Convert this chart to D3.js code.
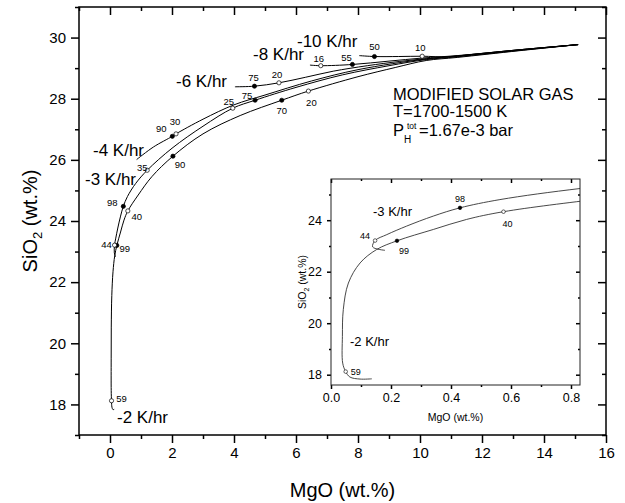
<!DOCTYPE html>
<html>
<head>
<meta charset="utf-8">
<script src="https://cdn.jsdelivr.net/npm/d3@7"></script>
<style>
  body { margin: 0; background: #fff; }
  svg { font-family: "Liberation Sans", Arial, sans-serif; }
  .ax path { display: none; }
  .ax line { stroke: #000; stroke-width: 1.5; }
  .ax text { fill: #000; }
</style>
</head>
<body>
<svg id="chart" width="625" height="503"></svg>
<script>
// cooling rate curves, [MgO, SiO2] in wt.%
const rates = ["-2", "-3", "-4", "-6", "-8", "-10"]

const curve2 = [[0.136,17.84],[0.097,17.83],[0.063,17.91],[0.049,18.12],[0.039,18.45],[0.038,19.49],[0.041,20.53],[0.058,21.56],[0.097,22.34],[0.152,22.86],[0.22,23.2],[0.341,23.64],[0.452,24.03],[0.575,24.33],[0.91,24.85],[1.35,25.45],[2.03,26.12],[3.0,26.85],[4.2,27.45],[5.54,27.95],[6.4,28.25],[8.0,28.72],[9.2,29.02],[10.2,29.25],[11.2,29.35],[13.2,29.57],[15.1,29.77]]
const curve3 = [[0.18,22.83],[0.139,22.96],[0.147,23.21],[0.186,23.44],[0.252,23.77],[0.341,24.16],[0.43,24.48],[0.563,24.8],[0.83,25.23],[1.2,25.66],[2.0,26.38],[3.0,27.1],[3.96,27.69],[4.68,27.95],[6.0,28.37],[7.5,28.78],[9.0,29.08],[10.2,29.28],[11.2,29.37],[13.2,29.58],[15.1,29.77]]
const curve4 = [[0.86,26.01],[1.4,26.42],[2.01,26.77],[2.13,26.85],[3.0,27.33],[4.0,27.8],[5.0,28.12],[6.5,28.58],[8.0,28.95],[10.2,29.3],[11.2,29.39],[13.2,29.59],[15.1,29.77]]
const curve6 = [[4.03,28.39],[4.66,28.41],[5.45,28.52],[6.3,28.7],[7.2,28.9],[8.3,29.08],[9.35,29.22],[10.2,29.31],[11.2,29.4],[13.2,29.6],[15.1,29.77]]
const curve8 = [[6.45,29.1],[6.8,29.08],[7.82,29.12],[9.0,29.23],[10.07,29.33],[11.2,29.41],[13.2,29.6],[15.1,29.77]]
const curve10 = [[8.04,29.41],[8.53,29.38],[9.3,29.38],[10.07,29.39],[10.9,29.37],[11.6,29.44],[13.2,29.6],[15.1,29.77]]

// marked points: [MgO, SiO2, label, filled]
const marks2 = [[0.049,18.12,"59",0],[0.22,23.2,"99",1],[0.575,24.33,"40",0],[2.03,26.12,"90",1],[5.54,27.95,"70",1],[6.4,28.25,"20",0]]
const marks3 = [[0.147,23.21,"44",0],[0.43,24.48,"98",1],[1.2,25.66,"35",0],[3.96,27.69,"25",0],[4.68,27.95,"75",1]]
const marks4 = [[2.01,26.77,"90",1],[2.13,26.85,"30",0]]
const marks6 = [[4.66,28.41,"75",1],[5.45,28.52,"20",0]]
const marks8 = [[6.8,29.08,"16",0],[7.82,29.12,"55",1]]
const marks10 = [[8.53,29.38,"50",1],[10.07,29.39,"10",0]]

const xMajor = [0, 2, 4, 6, 8, 10, 12, 14, 16]
const yMajor = [18, 20, 22, 24, 26, 28, 30]
const insetXTicks = [0.0, 0.2, 0.4, 0.6, 0.8]
const insetYTicks = [18, 20, 22, 24]

const curves = [curve2, curve3, curve4, curve6, curve8, curve10]
const marks = [marks2, marks3, marks4, marks6, marks8, marks10]

// layout (label offsets in px)
const mainLabelOff = [
    [[10,-2],[8,3],[9,6],[7,8],[0,10],[3,11]],
    [[-8,-1],[-11,-4],[-5,-3],[-4,-7],[-8,-5]],
    [[-11,-8],[-1,-12]],
    [[-1,-9],[-2,-8]],
    [[-2,-7.5],[-6,-7]],
    [[0,-10],[-2,-9]]
]
const insetLabelOff = { "59": [10, 0], "99": [7, 10], "40": [4, 12], "44": [-10, -4.5], "98": [0, -9] }
const ratePos = [[117, 423], [85, 185], [93, 156], [176, 87], [253, 60], [297, 47]]

const svg = d3.select("#chart")

const x = d3.scaleLinear().domain([-1, 16]).range([79, 606])
const y = d3.scaleLinear().domain([17, 31]).range([435, 7])

function drawAxes(g, xs, ys, xMaj, xMin, yMaj, yMin, big, small, fs, fmt) {
    const [x0, x1] = xs.range()
    const [y0, y1] = ys.range()
    // bottom
    g.append("g").attr("class", "ax").attr("transform", `translate(0,${y0})`)
        .call(d3.axisBottom(xs).tickValues(xMaj).tickSize(big).tickPadding(4).tickFormat(fmt))
        .selectAll("text").attr("font-size", fs)
    g.append("g").attr("class", "ax").attr("transform", `translate(0,${y0})`)
        .call(d3.axisBottom(xs).tickValues(xMin).tickSize(small).tickFormat(""))
    // top (inward)
    g.append("g").attr("class", "ax").attr("transform", `translate(0,${y1})`)
        .call(d3.axisTop(xs).tickValues(xMaj).tickSize(-big).tickFormat(""))
    g.append("g").attr("class", "ax").attr("transform", `translate(0,${y1})`)
        .call(d3.axisTop(xs).tickValues(xMin).tickSize(-small).tickFormat(""))
    // left
    g.append("g").attr("class", "ax").attr("transform", `translate(${x0},0)`)
        .call(d3.axisLeft(ys).tickValues(yMaj).tickSize(big).tickPadding(5))
        .selectAll("text").attr("font-size", fs)
    g.append("g").attr("class", "ax").attr("transform", `translate(${x0},0)`)
        .call(d3.axisLeft(ys).tickValues(yMin).tickSize(small).tickFormat(""))
    // right (inward)
    g.append("g").attr("class", "ax").attr("transform", `translate(${x1},0)`)
        .call(d3.axisRight(ys).tickValues(yMaj).tickSize(-big).tickFormat(""))
    g.append("g").attr("class", "ax").attr("transform", `translate(${x1},0)`)
        .call(d3.axisRight(ys).tickValues(yMin).tickSize(-small).tickFormat(""))
    return g.append("rect").attr("x", x0).attr("y", y1).attr("width", x1 - x0).attr("height", y0 - y1)
        .attr("fill", "none").attr("stroke", "#000").attr("stroke-width", 1.5)
}

drawAxes(svg, x, y, xMajor, d3.range(-1, 16, 2), yMajor, d3.range(17, 32, 2), 8, 4, 15, d3.format("d"))

svg.append("clipPath").attr("id", "mainclip").append("rect")
    .attr("x", 79).attr("y", 7).attr("width", 527).attr("height", 428)

const line = d3.line().x(d => x(d[0])).y(d => y(d[1])).curve(d3.curveCatmullRom.alpha(0.5))

svg.append("g").attr("clip-path", "url(#mainclip)")
    .selectAll("path").data(curves).enter().append("path")
    .attr("d", line).attr("fill", "none").attr("stroke", "#000").attr("stroke-width", 1)

marks.forEach((ms, si) => {
    ms.forEach((m, i) => {
        svg.append("circle").attr("cx", x(m[0])).attr("cy", y(m[1])).attr("r", 2.1)
            .attr("fill", m[3] ? "#000" : "#fff").attr("stroke", "#000").attr("stroke-width", 0.7)
        const off = mainLabelOff[si][i]
        svg.append("text").attr("x", x(m[0]) + off[0]).attr("y", y(m[1]) + off[1])
            .attr("text-anchor", "middle").attr("dominant-baseline", "central")
            .attr("font-size", 9.5).text(m[2])
    })
})

rates.forEach((r, i) => {
    svg.append("text").attr("x", ratePos[i][0]).attr("y", ratePos[i][1])
        .attr("font-size", 17).text(r + " K/hr")
})

// conditions text
const info = svg.append("g").attr("font-size", 16.5)
info.append("text").attr("x", 393).attr("y", 100).text("MODIFIED SOLAR GAS")
info.append("text").attr("x", 393).attr("y", 117).text("T=1700-1500 K")
const p = info.append("text").attr("x", 393).attr("y", 136)
p.append("tspan").text("P")
p.append("tspan").attr("x", 404).attr("y", 142.5).attr("font-size", 10).text("H")
p.append("tspan").attr("x", 407).attr("y", 128.5).attr("font-size", 8.5).text("tot")
p.append("tspan").attr("x", 419).attr("y", 136).text("=1.67e-3 bar")

// axis titles
svg.append("text").attr("x", 342.5).attr("y", 497).attr("text-anchor", "middle")
    .attr("font-size", 20).text("MgO (wt.%)")
const yt = svg.append("text").attr("transform", "translate(37,221) rotate(-90)")
    .attr("text-anchor", "middle").attr("font-size", 20)
yt.append("tspan").text("SiO")
yt.append("tspan").attr("font-size", 13).attr("dy", 5).text("2")
yt.append("tspan").attr("dy", -5).text(" (wt.%)")

// inset
const ix = d3.scaleLinear().domain([0, 0.83]).range([331, 580])
const iy = d3.scaleLinear().domain([17.6, 25.6]).range([385, 179])
const inset = svg.append("g")
inset.append("rect").attr("x", 331).attr("y", 179).attr("width", 249).attr("height", 206).attr("fill", "#fff")
svg.append("clipPath").attr("id", "insetclip").append("rect")
    .attr("x", 331).attr("y", 179).attr("width", 249).attr("height", 206)

const iline = d3.line().x(d => ix(d[0])).y(d => iy(d[1])).curve(d3.curveCatmullRom.alpha(0.5))
inset.append("g").attr("clip-path", "url(#insetclip)")
    .selectAll("path").data([curve2, curve3]).enter().append("path")
    .attr("d", iline).attr("fill", "none").attr("stroke", "#333").attr("stroke-width", 0.9)

drawAxes(inset, ix, iy, insetXTicks, [0.1, 0.3, 0.5, 0.7], insetYTicks, [19, 21, 23, 25], 4, 2, 12.5, d3.format(".1f"))
    .attr("stroke", "#222").attr("stroke-width", 1)
inset.selectAll(".ax line").attr("stroke-width", 1)

;[marks2, marks3].forEach(ms => {
    ms.filter(m => m[0] <= 0.83 && m[1] <= 25.6).forEach(m => {
        inset.append("circle").attr("cx", ix(m[0])).attr("cy", iy(m[1])).attr("r", 1.8)
            .attr("fill", m[3] ? "#000" : "#fff").attr("stroke", "#000").attr("stroke-width", 0.6)
        const off = insetLabelOff[m[2]]
        inset.append("text").attr("x", ix(m[0]) + off[0]).attr("y", iy(m[1]) + off[1])
            .attr("text-anchor", "middle").attr("dominant-baseline", "central")
            .attr("font-size", 9).text(m[2])
    })
})

inset.append("text").attr("x", 373).attr("y", 216).attr("font-size", 13).text("-3 K/hr")
inset.append("text").attr("x", 350).attr("y", 346).attr("font-size", 13).text("-2 K/hr")

inset.append("text").attr("x", 455.5).attr("y", 421).attr("text-anchor", "middle")
    .attr("font-size", 10.5).text("MgO (wt.%)")
const iyt = inset.append("text").attr("transform", "translate(306,282) rotate(-90)")
    .attr("text-anchor", "middle").attr("font-size", 10.5)
iyt.append("tspan").text("SiO")
iyt.append("tspan").attr("font-size", 7).attr("dy", 3).text("2")
iyt.append("tspan").attr("dy", -3).text(" (wt.%)")
</script>
</body>
</html>
